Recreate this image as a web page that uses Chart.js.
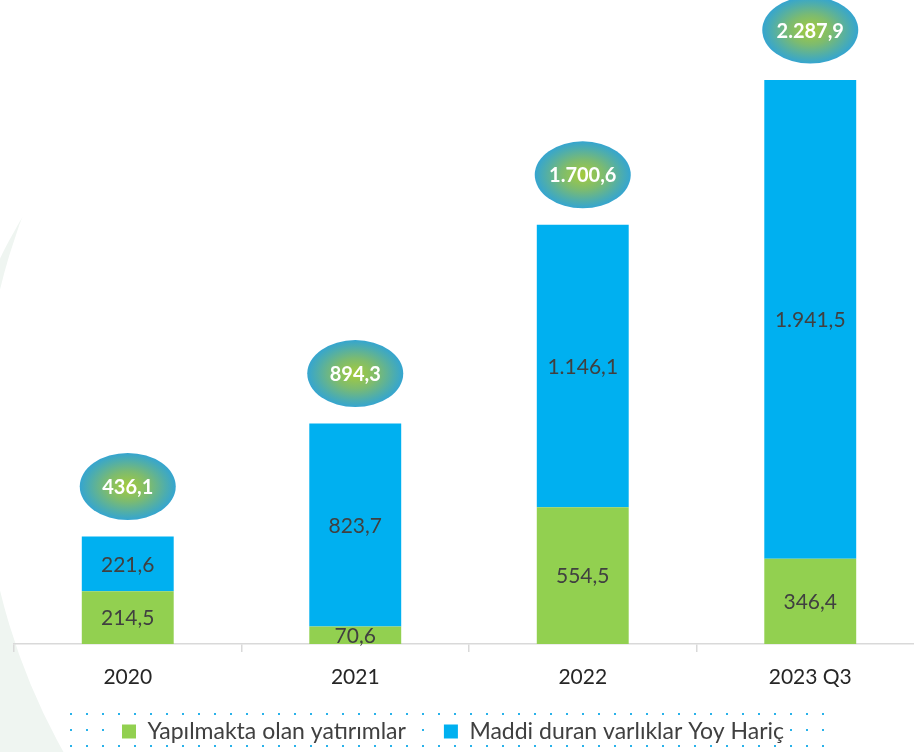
<!DOCTYPE html>
<html>
<head>
<meta charset="utf-8">
<script src="https://cdn.jsdelivr.net/npm/chart.js@4.4.1/dist/chart.umd.min.js"></script>
<style>
  html, body { margin: 0; padding: 0; background: #ffffff; overflow: hidden; }
  #wrap { position: absolute; left: 0; top: 0; width: 924px; height: 752px; }
</style>
</head>
<body>
<div id="wrap"><canvas id="c" width="924" height="752"></canvas></div>
<script>
// ---- data ----
const categories = ['2020', '2021', '2022', '2023 Q3'];
const yapilmakta = [214.5, 70.6, 554.5, 346.4];
const maddiDuran = [221.6, 823.7, 1146.1, 1941.5];
const totals = [436.1, 894.3, 1700.6, 2287.9];
const seriesNames = ['Yapılmakta olan yatırımlar', 'Maddi duran varlıklar Yoy Hariç'];

// ---- helpers ----
function fmtTR(v) {
  const s = v.toFixed(1);
  let [ip, dp] = s.split('.');
  ip = ip.replace(/\B(?=(\d{3})+(?!\d))/g, '.');
  return ip + ',' + dp;
}
const FONT = 'Lato, "Open Sans", "DejaVu Sans", sans-serif';

// background crescent, dotted legend frame, legend placement
const backdropPlugin = {
  id: 'backdrop',
  afterLayout(chart) {
    const lg = chart.legend;
    if (lg) {
      lg.left -= 16; lg.right -= 16;
      lg.top = 682; lg.bottom = 752; lg.height = 70;
    }
  },
  beforeDraw(chart) {
    const ctx = chart.ctx;
    ctx.save();
    ctx.beginPath();
    ctx.rect(-10, 0, 110, 752);
    ctx.arc(620, 440, 638, 0, Math.PI * 2, true);
    ctx.clip('evenodd');
    ctx.fillStyle = '#EFF5F1';
    ctx.beginPath();
    ctx.rect(-10, 440, 110, 320);
    ctx.fill();
    ctx.beginPath();
    ctx.rect(-10, 0, 110, 440);
    ctx.clip();
    ctx.beginPath();
    ctx.arc(400, 450, 443.5, 0, Math.PI * 2);
    ctx.fill();
    ctx.restore();

    const lg = chart.legend;
    const boxes = (lg && lg.legendHitBoxes) ? lg.legendHitBoxes : [];
    ctx.save();
    ctx.fillStyle = '#29B2EA';
    const rows = [714, 730, 746];
    rows.forEach((ry, ri) => {
      for (let x = 71; x <= 826; x += 16) {
        if (ri === 1) {
          let skip = false;
          boxes.forEach(b => { if (x > b.left - 6 && x < b.left + b.width + 4) skip = true; });
          if (skip) continue;
        }
        ctx.fillRect(x - 1, ry - 1, 2, 2);
      }
    });
    ctx.restore();
  }
};

// value labels inside the bars and ellipse totals
const labelsPlugin = {
  id: 'valueLabels',
  afterDatasetsDraw(chart) {
    const ctx = chart.ctx;
    ctx.save();
    ctx.textAlign = 'center';
    ctx.textBaseline = 'middle';
    ctx.font = '21px ' + FONT;
    ctx.fillStyle = '#404040';
    chart.data.datasets.forEach((ds, di) => {
      const meta = chart.getDatasetMeta(di);
      meta.data.forEach((el, i) => {
        const cy = (el.y + el.base) / 2;
        ctx.fillText(fmtTR(ds.data[i]), el.x, cy + 1);
      });
    });
    const topMeta = chart.getDatasetMeta(chart.data.datasets.length - 1);
    topMeta.data.forEach((el, i) => {
      const cx = el.x, cy = el.y - 50;
      const rx = 48, ry = 33.5;
      ctx.save();
      ctx.translate(cx, cy);
      ctx.scale(1, ry / rx);
      const g = ctx.createRadialGradient(0, 0, 0, 0, 0, rx);
      g.addColorStop(0, '#A6CB3B');
      g.addColorStop(0.45, '#7CBB70');
      g.addColorStop(0.8, '#4DADAE');
      g.addColorStop(1, '#35A5D0');
      ctx.fillStyle = g;
      ctx.beginPath();
      ctx.arc(0, 0, rx, 0, Math.PI * 2);
      ctx.fill();
      ctx.restore();
      ctx.fillStyle = '#FFFFFF';
      ctx.font = 'bold 20px ' + FONT;
      ctx.fillText(fmtTR(totals[i]), cx, cy + 1);
    });
    ctx.restore();
  }
};

new Chart(document.getElementById('c'), {
  type: 'bar',
  data: {
    labels: categories,
    datasets: [
      { label: seriesNames[0], data: yapilmakta, backgroundColor: '#92D050', borderWidth: 0 },
      { label: seriesNames[1], data: maddiDuran, backgroundColor: '#00B0F0', borderWidth: 0 }
    ]
  },
  options: {
    responsive: false,
    animation: false,
    devicePixelRatio: 1,
    layout: { padding: { left: 14, right: 0, top: 0, bottom: 0 } },
    datasets: { bar: { categoryPercentage: 1.0, barPercentage: 0.404 } },
    scales: {
      x: {
        stacked: true,
        afterFit(s) { s.height = 70; },
        grid: { display: true, drawOnChartArea: false, drawTicks: true, tickLength: 8, color: '#D9D9D9', lineWidth: 1.5, offset: true },
        border: { display: true, color: '#D9D9D9', width: 1.5 },
        ticks: { color: '#262626', font: { family: FONT, size: 21 }, padding: 13 }
      },
      y: {
        stacked: true,
        display: false,
        min: 0,
        max: 2613
      }
    },
    plugins: {
      legend: {
        position: 'bottom',
        maxHeight: 38,
        labels: {
          boxWidth: 14,
          boxHeight: 14,
          padding: 38,
          color: '#404040',
          font: { family: FONT, size: 23 }
        }
      },
      tooltip: { enabled: false }
    }
  },
  plugins: [backdropPlugin, labelsPlugin]
});
</script>
</body>
</html>
